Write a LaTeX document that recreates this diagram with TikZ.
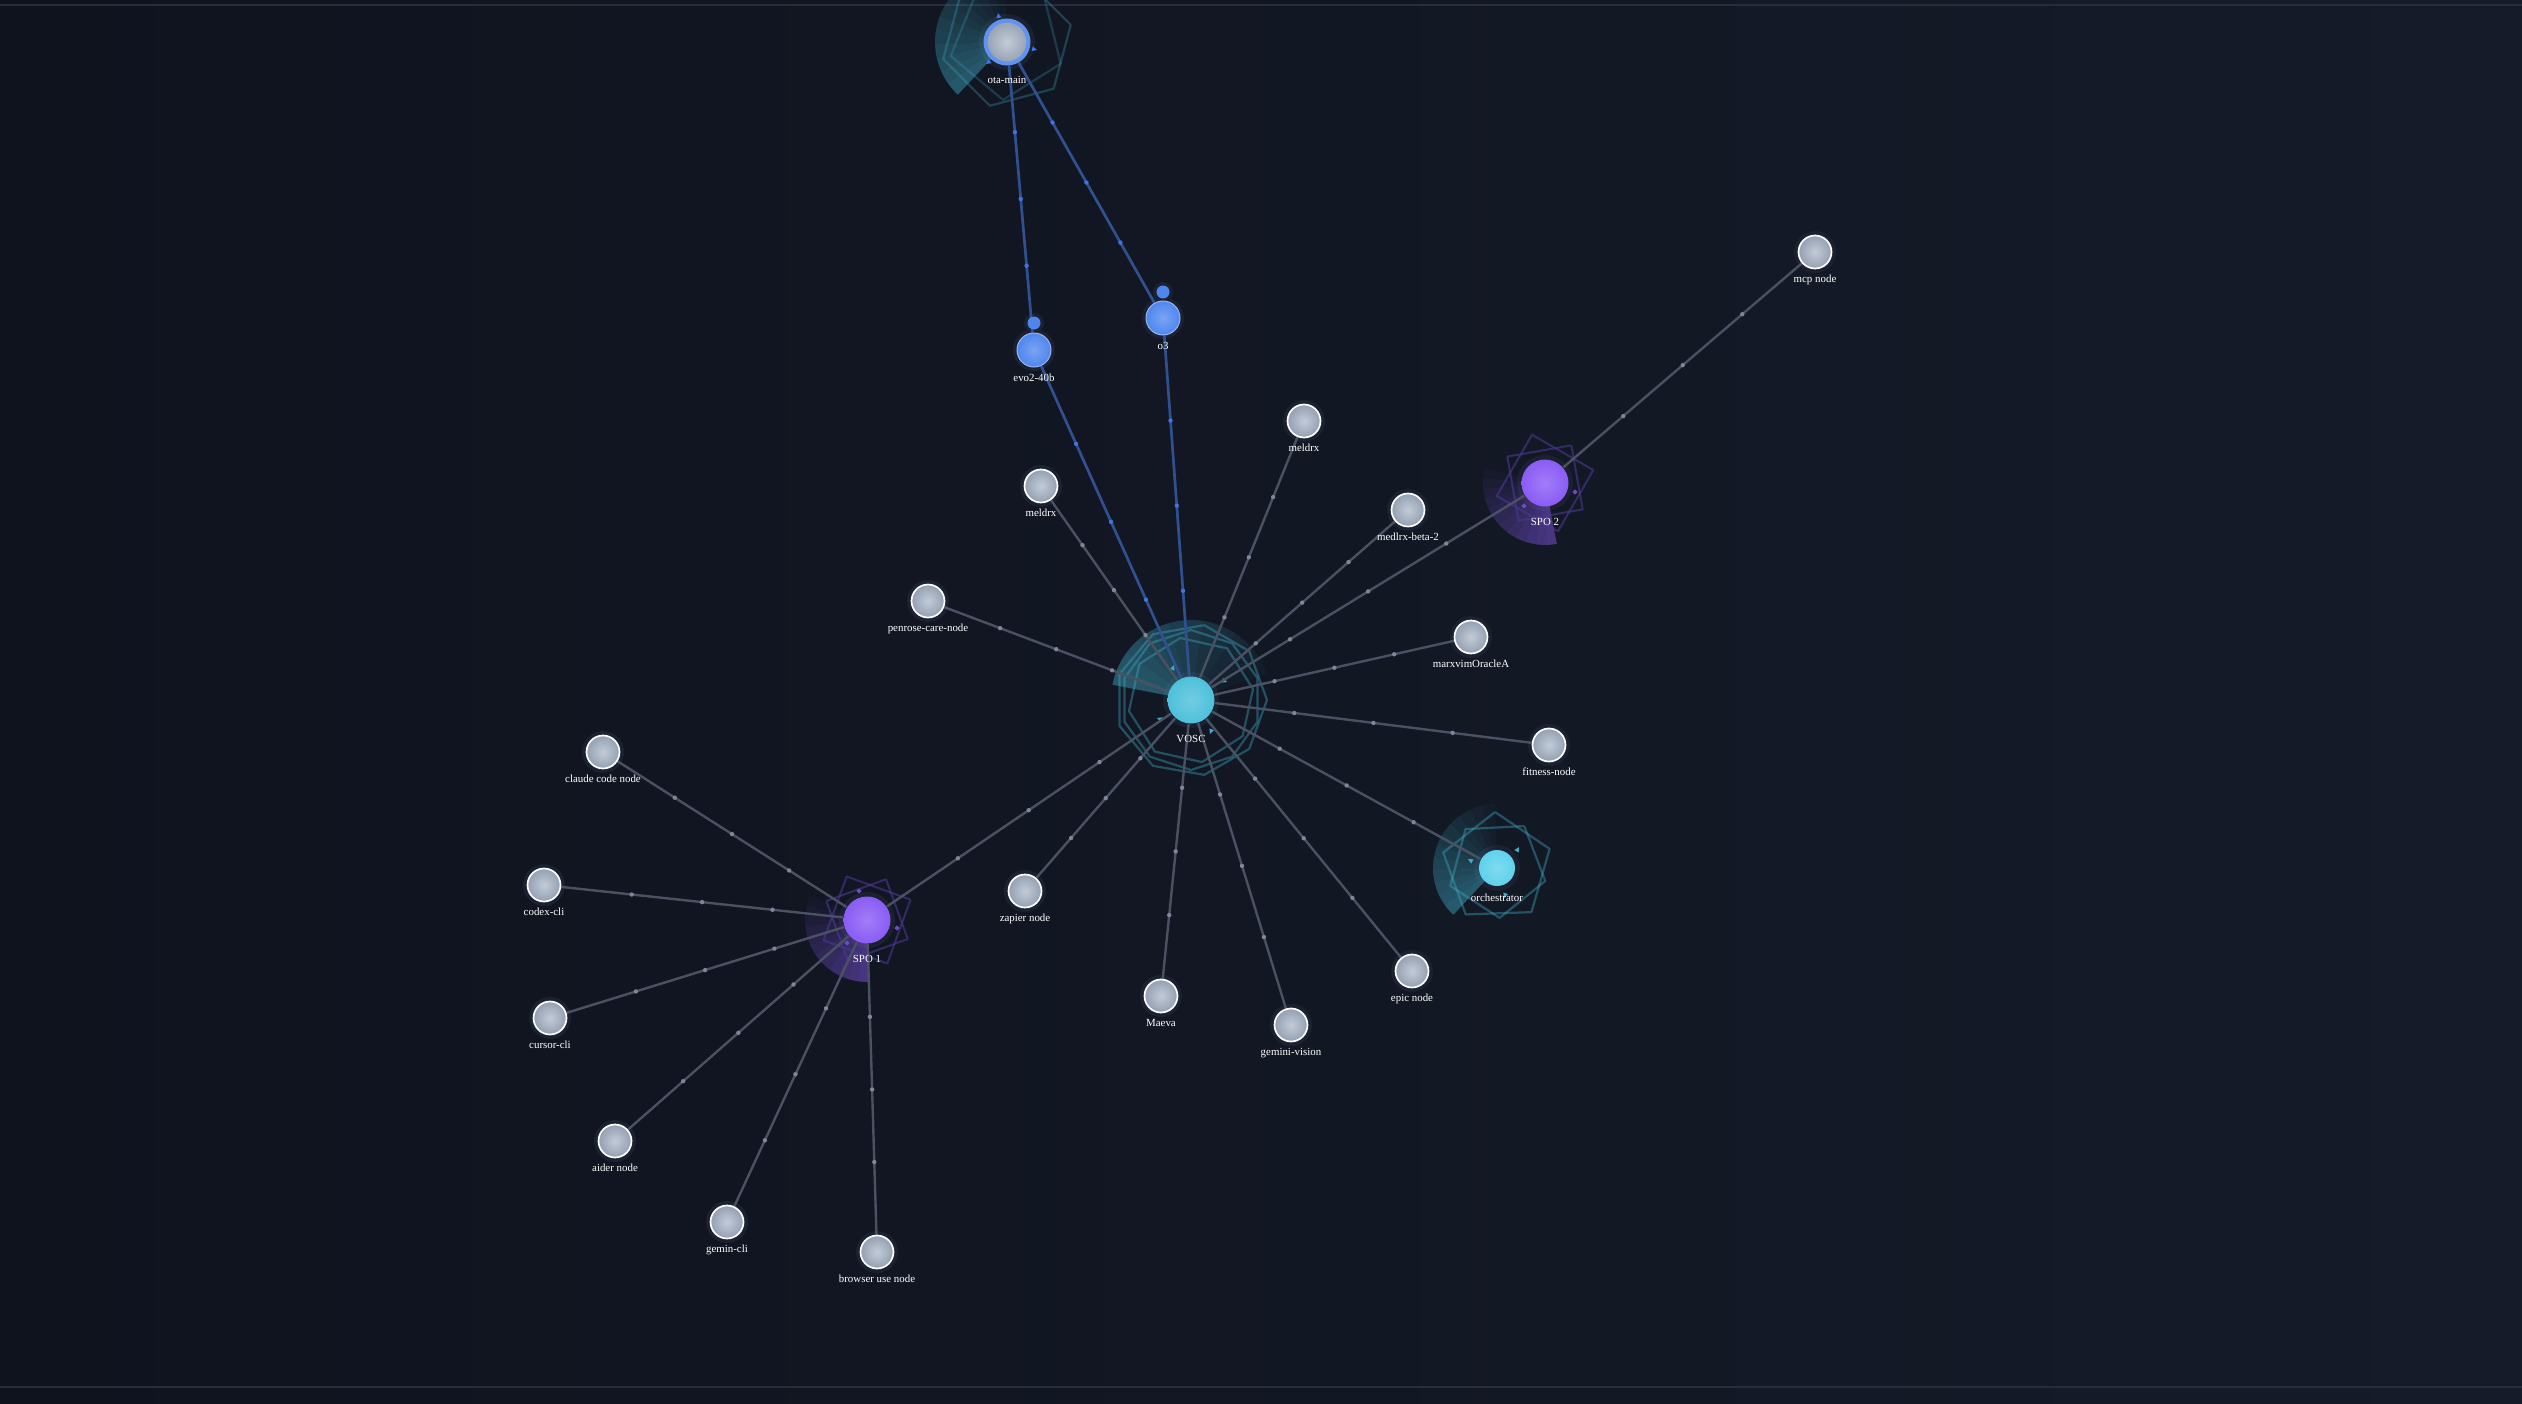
\documentclass[tikz,border=0pt]{standalone}
\usepackage{fontspec}
\setmainfont{Liberation Serif}
\usetikzlibrary{positioning,backgrounds,calc,decorations.markings}
\pgfdeclarelayer{back}
\pgfdeclarelayer{mid}
\pgfsetlayers{back,mid,main}
\definecolor{bgLeft}{HTML}{0F131E}
\definecolor{bgRight}{HTML}{151B29}
\definecolor{frameLine}{HTML}{262D3B}
\definecolor{wireColor}{HTML}{4A5163}
\definecolor{dotColor}{HTML}{7E8698}
\definecolor{blueWire}{HTML}{30508F}
\definecolor{blueDot}{HTML}{3F72E6}
\definecolor{nodeHi}{HTML}{C3CBD7}
\definecolor{nodeLo}{HTML}{93A0B2}
\definecolor{haloColor}{HTML}{1B2130}
\definecolor{voscColor}{HTML}{4EC0DA}
\definecolor{orchColor}{HTML}{5FD2EC}
\definecolor{spoColor}{HTML}{8A5CF5}
\definecolor{modelColor}{HTML}{4F86EE}
\definecolor{tealRing}{HTML}{3FA9C2}
\definecolor{purpleRing}{HTML}{4A3890}
\tikzset{
	lab/.style={font=\fontsize{3.1}{3.7}\selectfont, text=white, inner sep=0pt, text height=2.2pt, text depth=.7pt},
	alab/.style={lab, yshift=-.5mm},
	mlab/.style={lab, yshift=-.6mm},
	hlab/.style={lab, yshift=-1mm},
	agent/.style={circle, draw=white, line width=.17mm, inner color=nodeHi, outer color=nodeLo, minimum size=3.3mm, inner sep=0pt},
	hub/.style={circle, minimum size=4.7mm, inner sep=0pt},
	model/.style={circle, draw=modelColor!60!white, line width=.1mm, inner color=modelColor!75!white, outer color=modelColor, minimum size=3.4mm, inner sep=0pt},
	pip/.style={circle, fill=modelColor, minimum size=1.3mm, inner sep=0pt},
	flow/.style 2 args={draw=#1, line width=.24mm, decoration={markings,
			mark=at position .25 with {\fill[#2] (0,0) circle (.22mm);},
			mark=at position .5 with {\fill[#2] (0,0) circle (.22mm);},
			mark=at position .75 with {\fill[#2] (0,0) circle (.22mm);}}, postaction={decorate}},
	wire/.style={flow={wireColor}{dotColor}},
	bluewire/.style={flow={blueWire}{blueDot}, line width=.27mm},
	vring/.style={draw=tealRing, draw opacity=.4, line width=.22mm, line join=round},
	pring/.style={draw=purpleRing, draw opacity=.6, line width=.2mm, line join=round},
	blip/.pic={\fill (0,0) -- (-5,2.5) -- (-5,-2.5) -- cycle;},
	fleck/.pic={\fill[rotate=45] (-1.8,-1.8) rectangle (1.8,1.8);}
}
% radar sweep: node, edge angle, span, radius, colour
\newcommand{\radarSweep}[5]{%
	\foreach \k [evaluate=\k as \op using {0.45*(1-\k/12)}] in {0,...,11}
		\fill[#5, fill opacity=\op] (#1.center) -- ++({#2-\k*#3/12}:#4)
			arc[start angle={#2-\k*#3/12}, delta angle={-#3/12}, radius=#4] -- cycle;
}
% outline polygon: node, sides, radius, rotation, style
\newcommand{\ringPoly}[5]{%
	\draw[#5, shift={(#1.center)}] (#4:#3) \foreach \j in {1,...,#2} { -- ({#4+\j*360/#2}:#3) };
}
\begin{document}
\begin{tikzpicture}[x=0.1mm, y=0.1mm]
	\useasboundingbox (0,0) rectangle (2522,-1404);
	\begin{pgfonlayer}{back}
		\fill[bgLeft] (-5,5) rectangle (2527,-1409);
		\shade[left color=bgLeft, right color=bgRight] (-5,5) rectangle (2527,-1409);
		\draw[frameLine, line width=.2mm] (-5,-5) -- (2527,-5);
		\draw[frameLine, line width=.2mm] (-5,-1387) -- (2527,-1387);
	\end{pgfonlayer}
	
	% hubs
	\node[hub, inner color=voscColor!80!white, outer color=voscColor, label={[hlab]below:VOSC}] (vosc) at (1191,-700) {};
	\node[hub, inner color=spoColor!80!white, outer color=spoColor, label={[hlab]below:SPO 1}] (spo1) at (867,-920) {};
	\node[hub, inner color=spoColor!80!white, outer color=spoColor, label={[hlab]below:SPO 2}] (spo2) at (1545,-483) {};
	\node[hub, minimum size=3.6mm, inner color=orchColor!80!white, outer color=orchColor, label={[mlab]below:orchestrator}] (orch) at (1497,-868) {};
	\node[hub, minimum size=4.3mm, draw=modelColor!90!white, line width=.4mm, inner color=nodeHi, outer color=nodeLo, label={[hlab]below:ota-main}] (ota) at (1007,-42) {};
	% models
	\node[model, label={[mlab]below:evo2-40b}] (evo) at (1034,-350) {};
	\node[model, label={[mlab]below:o3}] (o3) at (1163,-318) {};
	\node[pip] (evopip) at (1034,-323) {};
	\node[pip] (o3pip) at (1163,-292) {};
	% agents
	\node[agent, label={[alab]below:mcp node}] (mcp) at (1815,-252) {};
	\node[agent, label={[alab]below:meldrx}] (meldrxa) at (1304,-421) {};
	\node[agent, label={[alab]below:meldrx}] (meldrxb) at (1041,-486) {};
	\node[agent, label={[alab]below:medlrx-beta-2}] (medlrx) at (1408,-510) {};
	\node[agent, label={[alab]below:penrose-care-node}] (penrose) at (928,-601) {};
	\node[agent, label={[alab]below:marxvimOracleA}] (marxvim) at (1471,-637) {};
	\node[agent, label={[alab]below:fitness-node}] (fitness) at (1549,-745) {};
	\node[agent, label={[alab]below:zapier node}] (zapier) at (1025,-891) {};
	\node[agent, label={[alab]below:epic node}] (epic) at (1412,-971) {};
	\node[agent, label={[alab]below:Maeva}] (maeva) at (1161,-996) {};
	\node[agent, label={[alab]below:gemini-vision}] (vision) at (1291,-1025) {};
	\node[agent, label={[alab]below:claude code node}] (claude) at (603,-752) {};
	\node[agent, label={[alab]below:codex-cli}] (codex) at (544,-885) {};
	\node[agent, label={[alab]below:cursor-cli}] (cursor) at (550,-1018) {};
	\node[agent, label={[alab]below:aider node}] (aider) at (615,-1141) {};
	\node[agent, label={[alab]below:gemin-cli}] (gemin) at (727,-1222) {};
	\node[agent, label={[alab]below:browser use node}] (browser) at (877,-1252) {};
	
	\begin{pgfonlayer}{mid}
		\foreach \n in {mcp,meldrxa,meldrxb,medlrx,penrose,marxvim,fitness,zapier,epic,maeva,vision,claude,codex,cursor,aider,gemin,browser,evo,o3}
			\fill[haloColor] (\n.center) circle (21);
		\foreach \n in {vosc,spo1,spo2,ota}
			\fill[haloColor] (\n.center) circle (28);
		\fill[haloColor] (orch.center) circle (23);
		\fill[haloColor] (evopip.center) circle (10);
		\fill[haloColor] (o3pip.center) circle (10);
		% sweeps
		\radarSweep{vosc}{169}{150}{80}{tealRing}
		\radarSweep{ota}{227}{135}{72}{tealRing}
		\radarSweep{orch}{227}{135}{64}{tealRing}
		\radarSweep{spo1}{272}{115}{62}{spoColor}
		\radarSweep{spo2}{281}{115}{62}{spoColor}
		% rings
		\ringPoly{vosc}{9}{76}{0}{vring}
		\ringPoly{vosc}{10}{70}{18}{vring}
		\ringPoly{vosc}{8}{63}{10}{vring}
		\ringPoly{ota}{6}{66}{15}{vring, draw opacity=.3}
		\ringPoly{ota}{5}{58}{50}{vring, draw opacity=.25}
		\ringPoly{orch}{5}{56}{92}{vring}
		\ringPoly{orch}{5}{50}{57}{vring}
		\ringPoly{spo1}{4}{48}{25}{pring}
		\ringPoly{spo1}{4}{45}{65}{pring}
		\ringPoly{spo2}{4}{50}{15}{pring}
		\ringPoly{spo2}{4}{46}{55}{pring}
		% orbiting marks
		\pic[blueDot, rotate=100] at (998,-13) {blip};
		\pic[blueDot, rotate=-15] at (1037,-50) {blip};
		\pic[blueDot, rotate=215] at (986,-64) {blip};
		\pic[tealRing, rotate=70] at (1174,-665) {blip};
		\pic[tealRing, rotate=-20] at (1227,-682) {blip};
		\pic[tealRing, rotate=160] at (1157,-718) {blip};
		\pic[tealRing, rotate=250] at (1210,-734) {blip};
		\pic[tealRing, rotate=60] at (1519,-847) {blip};
		\pic[tealRing, rotate=150] at (1468,-859) {blip};
		\pic[tealRing, rotate=250] at (1504,-898) {blip};
		\pic[spoColor!80!black] at (859,-891) {fleck};
		\pic[spoColor!80!black] at (897,-928) {fleck};
		\pic[spoColor!80!black] at (847,-943) {fleck};
		\pic[spoColor!80!black] at (1524,-506) {fleck};
		\pic[spoColor!80!black] at (1575,-492) {fleck};
		
		\path (ota) edge[bluewire] (evo);
		\path (ota) edge[bluewire] (o3);
		\path (evo) edge[bluewire] (vosc);
		\path (o3) edge[bluewire] (vosc);
		\path (mcp) edge[wire] (spo2);
		\path (spo2) edge[wire] (vosc);
		\path (meldrxa) edge[wire] (vosc);
		\path (meldrxb) edge[wire] (vosc);
		\path (medlrx) edge[wire] (vosc);
		\path (penrose) edge[wire] (vosc);
		\path (marxvim) edge[wire] (vosc);
		\path (fitness) edge[wire] (vosc);
		\path (orch) edge[wire] (vosc);
		\path (epic) edge[wire] (vosc);
		\path (vision) edge[wire] (vosc);
		\path (maeva) edge[wire] (vosc);
		\path (zapier) edge[wire] (vosc);
		\path (spo1) edge[wire] (vosc);
		\path (claude) edge[wire] (spo1);
		\path (codex) edge[wire] (spo1);
		\path (cursor) edge[wire] (spo1);
		\path (aider) edge[wire] (spo1);
		\path (gemin) edge[wire] (spo1);
		\path (browser) edge[wire] (spo1);
	\end{pgfonlayer}
\end{tikzpicture}
\end{document}
